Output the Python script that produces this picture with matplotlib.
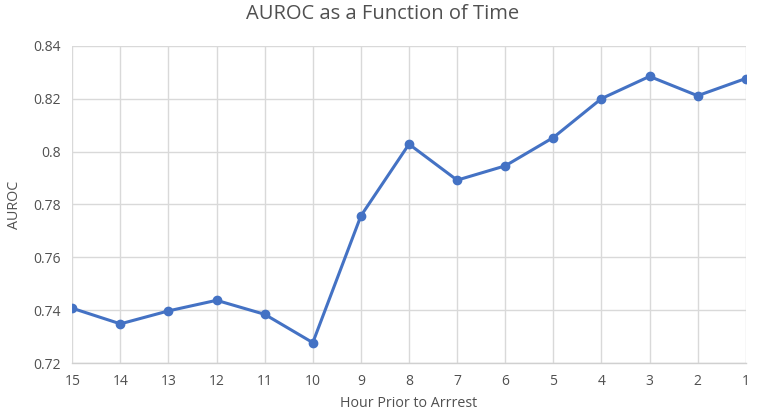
import matplotlib
matplotlib.use("Agg")
import matplotlib.pyplot as plt
import numpy as np

hours = ["15", "14", "13", "12", "11", "10", "9", "8", "7", "6", "5", "4", "3", "2", "1"]
auroc = [0.7408, 0.7349, 0.7398, 0.7438, 0.7385, 0.7278, 0.7757,
         0.8028, 0.7892, 0.7946, 0.8053, 0.8200, 0.8284, 0.8211, 0.8276]
yticks = [0.72, 0.74, 0.76, 0.78, 0.80, 0.82, 0.84]
ytick_labels = ["0.72", "0.74", "0.76", "0.78", "0.8", "0.82", "0.84"]

plt.rcParams["font.family"] = ["Open Sans", "DejaVu Sans"]
txt = "#505050"

fig = plt.figure(figsize=(7.65, 4.17), dpi=100)
ax = fig.add_axes([0.0945, 0.1288, 0.8803, 0.7616])

x = np.arange(len(hours))
ax.plot(x, auroc, color="#4472C4", linewidth=2.2, marker="o", markersize=6, zorder=3)

ax.set_xlim(0, len(hours) - 1)
ax.set_ylim(0.72, 0.84)
ax.set_xticks(x)
ax.set_xticklabels(hours, fontsize=10, color=txt)
ax.set_yticks(yticks)
ax.set_yticklabels(ytick_labels, fontsize=10, color=txt)
ax.tick_params(length=0, pad=8)
ax.grid(True, color="#d9d9d9", linewidth=1.0)
ax.set_axisbelow(True)
for s in ["top", "right", "left"]:
    ax.spines[s].set_visible(False)
ax.spines["bottom"].set_color("#d0d0d0")
ax.spines["bottom"].set_linewidth(1.0)

ax.set_xlabel("Hour Prior to Arrrest", fontsize=10.3, color=txt, labelpad=5)
ax.set_ylabel("AUROC", fontsize=10.3, color=txt, labelpad=8)
fig.suptitle("AUROC as a Function of Time", y=0.99, fontsize=14.5, color=txt)

fig.savefig("out.png", dpi=100, facecolor="white")
